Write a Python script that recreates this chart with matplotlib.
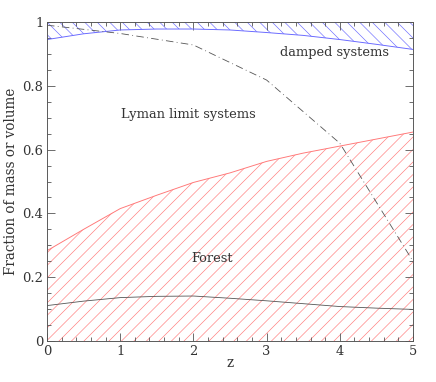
import numpy as np
import matplotlib
matplotlib.use('Agg')
import matplotlib.pyplot as plt

# redshift grid
z = [0, 0.5, 1, 1.5, 2, 2.5, 3, 3.5, 4, 4.5, 5]

# boundaries
forest_top = [0.283, 0.35, 0.415, 0.457, 0.497, 0.527, 0.563, 0.589, 0.611, 0.633, 0.655]
damped_bottom = [0.945, 0.963, 0.975, 0.978, 0.978, 0.975, 0.967, 0.958, 0.945, 0.93, 0.914]
volume_forest = [0.111, 0.125, 0.136, 0.140, 0.141, 0.134, 0.126, 0.117, 0.108, 0.103, 0.099]

lls_z = [0, 1, 2, 3, 4, 5]
lls_frac = [0.99, 0.964, 0.928, 0.818, 0.62, 0.25]

labels = {'damped systems': (3.93, 0.903),
          'Lyman limit systems': (1.93, 0.71),
          'Forest': (2.25, 0.26)}

plt.rcParams['font.family'] = 'DejaVu Serif'
plt.rcParams['hatch.linewidth'] = 0.6
grey = '#555555'

dpi = 75
fig = plt.figure(figsize=(436 / dpi, 382 / dpi), dpi=dpi)
ax = fig.add_axes([47 / 436, 41 / 382, 366 / 436, 319 / 382])

ax.fill_between(z, 0, forest_top, facecolor='none', edgecolor='#ff7878',
                hatch='//', linewidth=0)
ax.plot(z, forest_top, color='#ff7878', lw=0.9)

ax.fill_between(z, damped_bottom, 1, facecolor='none', edgecolor='#6868ff',
                hatch='\\\\', linewidth=0)
ax.plot(z, damped_bottom, color='#6868ff', lw=0.9)

ax.plot(lls_z, lls_frac, color=grey, lw=0.8, linestyle=(0, (9, 4, 1, 4)))
ax.plot(z, volume_forest, color=grey, lw=0.8)

for txt, (x, y) in labels.items():
    ax.text(x, y, txt, ha='center', va='center', fontsize=12.5, color='#333333')

ax.set_xlim(0, 5)
ax.set_ylim(0, 1)
ax.set_xticks(range(6))
ax.set_xticks(np.arange(0, 5.01, 0.2), minor=True)
ax.set_yticks([0, 0.2, 0.4, 0.6, 0.8, 1])
ax.set_yticklabels(['0', '0.2', '0.4', '0.6', '0.8', '1'])
ax.set_yticks(np.arange(0, 1.001, 0.05), minor=True)
ax.tick_params(which='both', direction='in', top=True, right=True, colors=grey,
               labelcolor='#333333', labelsize=12.5)
ax.tick_params(which='major', length=7.5, width=0.8)
ax.tick_params(which='minor', length=4.2, width=0.8)
for s in ax.spines.values():
    s.set_color(grey)
    s.set_linewidth(0.9)

ax.set_xlabel('z', fontsize=13, color='#333333', labelpad=-2)
ax.set_ylabel('Fraction of mass or volume', fontsize=13, color='#333333')

fig.savefig('out.png', dpi=dpi)
